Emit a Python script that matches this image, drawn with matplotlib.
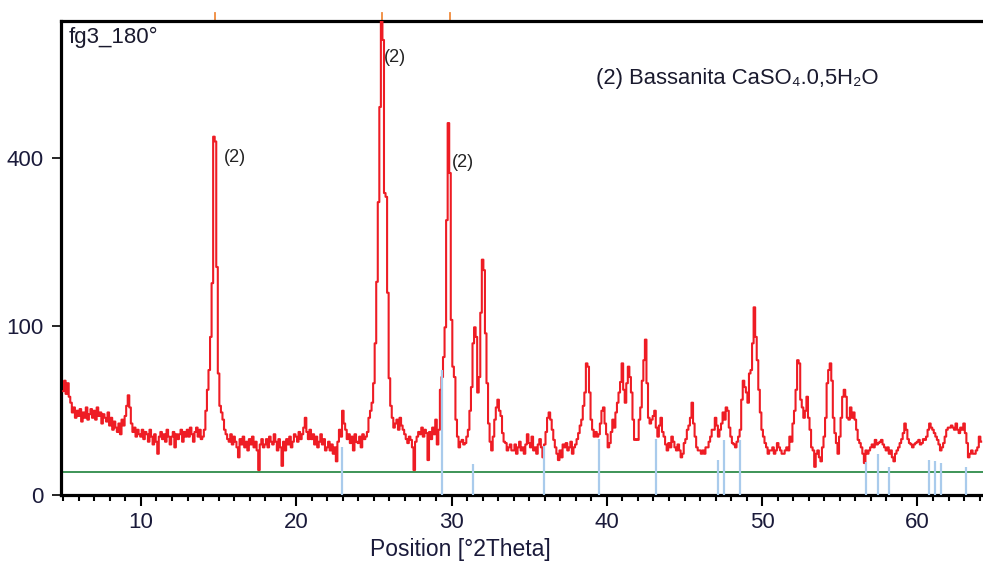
import numpy as np
import matplotlib.pyplot as plt
from matplotlib.ticker import FixedLocator, MultipleLocator
import matplotlib.transforms as mtransforms

plt.rcParams['font.family'] = ['Liberation Sans', 'DejaVu Sans']

# scan positions (°2Theta), step 0.1
two_theta = np.round(np.arange(5.0, 64.15, 0.1), 1)

# counts, one row per degree
counts = [
    38, 46, 36, 44, 34, 30, 24, 27, 21, 25,            # 5
    22, 26, 19, 24, 21, 27, 20, 23, 26, 21,            # 6
    25, 20, 27, 22, 24, 18, 23, 21, 19, 24,            # 7
    17, 21, 15, 19, 16, 14, 18, 13, 20, 17,            # 8
    22, 28, 35, 27, 18, 14, 16, 12, 15, 13,            # 9
    12, 15, 11, 14, 13, 10, 15, 12, 9, 13,             # 10
    10, 6, 12, 14, 11, 13, 10, 15, 12, 9,              # 11
    12, 14, 8, 13, 11, 13, 15, 10, 14, 12,             # 12
    15, 12, 16, 13, 10, 14, 16, 12, 15, 11,            # 13
    12, 15, 25, 39, 55, 88, 158, 452, 440, 183,        # 14
    52, 28, 24, 20, 15, 13, 11, 10, 13, 9,             # 15
    12, 10, 8, 5, 11, 9, 12, 8, 10, 7,                 # 16
    11, 9, 12, 8, 10, 7, 2.2, 9, 11, 8,                # 17
    9, 11, 8, 12, 10, 9, 13, 10, 7, 11,                # 18
    8, 3, 10, 7, 11, 9, 12, 8, 10, 13,                 # 19
    12, 10, 14, 11, 13, 16, 21, 14, 11, 15,            # 20
    11, 13, 9, 12, 8, 10, 13, 9, 11, 7,                # 21
    8, 10, 7, 9, 6, 8, 4, 10, 15, 12,                  # 22
    25, 18, 15, 11, 13, 9.5, 12, 7, 13, 10,            # 23
    9.5, 12, 8, 13, 11, 12, 14, 21, 25, 30,            # 24
    44, 81, 160, 302, 530, 800, 729, 321, 313, 144,    # 25
    48, 28, 21, 16, 18, 20, 15, 21, 17, 15,            # 26
    13, 11, 9.5, 12, 10.7, 8, 2.2, 10, 12, 14,         # 27
    13, 16, 12, 15, 13.5, 4.3, 14, 11, 16, 13,         # 28
    20, 9, 15, 39, 49, 67, 99, 266, 487, 365,          # 29
    108, 58, 49, 20, 12, 8, 10, 10.7, 9, 9.5,          # 30
    12, 15, 25, 41, 81, 99, 88, 37, 49, 117,           # 31
    195, 178, 92, 44, 18, 10, 7, 12, 20, 27,           # 32
    32, 25, 22, 13.5, 10, 9.5, 7, 8, 9, 7,             # 33
    7, 9, 6, 8, 10, 7, 8, 6, 9, 13,                    # 34
    9.5, 8, 12, 7, 8, 6, 9, 11, 8, 5,                  # 35
    9, 14, 21, 24, 20, 15, 10.7, 8, 6, 4.3,            # 36
    7, 5, 9, 8, 9.5, 7, 8, 10, 6, 8,                   # 37
    9, 11, 13.5, 17, 20, 28, 37, 61, 58, 37,           # 38
    20, 15, 12, 14, 12, 13, 18, 25, 27, 18,            # 39
    13, 8, 9.5, 14, 20, 16, 24, 30, 37, 45,            # 40
    61, 39, 30, 44, 58, 49, 37, 20, 10.7, 11,          # 41
    10.7, 20, 27, 46, 64, 85, 44, 21, 18, 20,          # 42
    22, 25, 16, 12, 17, 21, 14, 12, 9, 7,              # 43
    9.5, 8, 12, 10, 8, 7, 9, 7, 5, 6,                  # 44
    9.5, 11, 15, 17, 21, 30, 18, 12, 8, 7,             # 45
    7, 6, 7, 6, 8, 8, 10, 12, 15, 15,                  # 46
    21, 17, 12, 15, 18, 24, 20, 27, 25, 16,            # 47
    12, 9.5, 9, 8, 10, 12, 15, 32, 46, 41,             # 48
    37, 30, 52, 55, 81, 124, 88, 64, 39, 24,           # 49
    15, 12, 9.5, 8, 6, 7, 7, 8, 6, 7,                  # 50
    9.5, 8, 7, 6, 6, 7, 8, 7, 12, 10,                  # 51
    18, 25, 39, 64, 61, 32, 27, 21, 25, 34,            # 52
    21, 15, 8, 7, 2.8, 6, 7, 5, 4, 8,                  # 53
    12, 21, 44, 55, 61, 46, 21, 13.5, 9.5, 6,          # 54
    12, 21, 34, 39, 34, 21, 20, 27, 21, 24,            # 55
    20, 15, 10.7, 9.5, 8, 6, 3.6, 7, 6, 7,             # 56
    8, 9, 8, 10.7, 9, 9.5, 10, 10.7, 9, 8,             # 57
    7, 8, 6, 7, 5, 4, 6, 7, 8, 9.5,                    # 58
    11, 13.5, 18, 15, 11, 9.5, 9, 8, 9, 9.5,           # 59
    10, 10.7, 9, 9.5, 11, 10.7, 12, 15, 18, 16,        # 60
    15, 13.5, 12, 10.7, 9, 7, 8, 9.5, 12, 15,          # 61
    16, 16, 17, 16, 15, 18, 15, 13.5, 16, 15,          # 62
    18, 13.5, 9.5, 5, 6, 7, 6, 6, 7, 8,                # 63
    12, 10,                                            # 64
]
assert len(counts) == len(two_theta)

# reference pattern sticks
ref_pos = [22.96, 29.4, 31.4, 35.95, 39.47, 43.16, 47.17, 47.54, 48.6,
           56.66, 57.48, 58.18, 60.76, 61.13, 61.5, 63.1]
ref_int = [8.1, 55, 3.4, 8.5, 11, 11, 4.3, 10.6, 10.6,
           3.9, 5.9, 2.8, 4.3, 4.0, 3.6, 2.8]

# identified bassanite peaks
peak_pos = [14.77, 25.54, 29.9]
peak_lbl_x = [15.35, 25.65, 30.0]
peak_lbl_y = [400, 675, 390]

background = 1.9

fig = plt.figure(figsize=(9.83, 5.61), dpi=100)
ax = fig.add_axes([0.062, 0.1176, 0.938, 0.845])
ax.set_yscale('function', functions=(lambda v: np.sqrt(np.clip(v, 0, None)), lambda v: v ** 2))

ax.plot(two_theta, counts, drawstyle='steps-mid', color='#ee1c24', lw=1.5, zorder=3)
ax.axhline(background, color='#2e8b4a', lw=1.3, zorder=2)
ax.vlines(ref_pos, 0, ref_int, color='#a9cbec', lw=1.6, zorder=4)

trans = mtransforms.blended_transform_factory(ax.transData, ax.transAxes)
for p in peak_pos:
    ax.plot([p, p], [1.0, 1.017], color='#f08a3c', lw=1.3, transform=trans, clip_on=False)

for lx, ly in zip(peak_lbl_x, peak_lbl_y):
    ax.text(lx, ly, '(2)', fontsize=13, color='#222222', va='center', ha='left')

ax.text(0.008, 0.965, 'fg3_180°', transform=ax.transAxes, fontsize=16,
        color='#1a1a2e', va='center', ha='left')
ax.text(0.58, 0.878, '(2) Bassanita CaSO₄.0,5H₂O', transform=ax.transAxes, fontsize=15.8,
        color='#1a1a2e', va='center', ha='left')

ax.set_xlim(4.85, 64.22)
ax.set_ylim(0, 791)
ax.xaxis.set_major_locator(FixedLocator([10, 20, 30, 40, 50, 60]))
ax.xaxis.set_minor_locator(MultipleLocator(1))
ax.yaxis.set_major_locator(FixedLocator([0, 100, 400]))
ax.yaxis.set_minor_locator(FixedLocator([]))

for s in ['left', 'bottom', 'top']:
    ax.spines[s].set_linewidth(2.3)
ax.spines['right'].set_visible(False)

ax.tick_params(axis='x', which='major', length=8, width=1.5, pad=4, labelsize=16, labelcolor='#1a1a3a')
ax.tick_params(axis='x', which='minor', length=4, width=1.5)
ax.tick_params(axis='y', which='major', length=6.5, width=1.2, pad=6, labelsize=16, labelcolor='#1a1a3a')

ax.set_xlabel('Position [°2Theta]', fontsize=16.5, color='#1a1a3a')
ax.xaxis.set_label_coords(0.433, -0.114)
ax.xaxis.label.set_va('center')

fig.savefig('out.png', dpi=100)
